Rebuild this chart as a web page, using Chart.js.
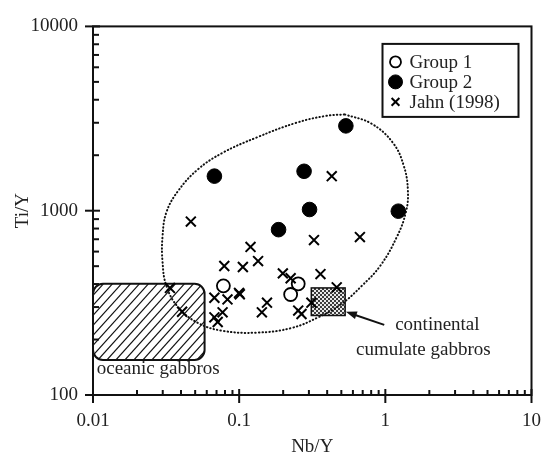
<!DOCTYPE html>
<html lang="en">
<head>
    <meta charset="UTF-8">
    <title>Ti/Y vs Nb/Y</title>
    <script src="https://cdn.jsdelivr.net/npm/chart.js"></script>
    <style>
        html, body { margin: 0; padding: 0; background: #fff; }
        #wrap { width: 556px; height: 454px; }
    </style>
</head>
<body>
<div id="wrap"><canvas id="grafico" width="556" height="454"></canvas></div>

<script>
    // valores (x = Nb/Y, y = Ti/Y)
    const group1Nb = [0.078, 0.2535, 0.225];
    const group1Ti = [391, 401, 351];

    const group2Nb = [0.0677, 0.278, 0.537, 0.303, 1.227, 0.186];
    const group2Ti = [1540, 1636, 2886, 1015, 994, 789];

    const jahnNb = [0.43, 0.0467, 0.67, 0.325, 0.1196, 0.1347, 0.0791, 0.106, 0.199, 0.225,
        0.36, 0.465, 0.0998, 0.101, 0.0677, 0.0832, 0.155, 0.143, 0.0677, 0.077,
        0.0713, 0.2535, 0.267, 0.312, 0.0336, 0.0407];
    const jahnTi = [1540, 873, 719, 693, 636, 533, 501, 495, 457, 430,
        453, 384, 358, 352, 337, 330, 317, 281, 264, 281,
        249, 287, 275, 317, 381, 283];

    // contorno pontilhado
    const envelopeNb = [0.528, 0.804, 1.131, 1.341, 1.427, 1.383, 1.203, 0.924, 0.688, 0.4964,
        0.3474, 0.2284, 0.1327, 0.077, 0.0522, 0.0383, 0.0318, 0.0299, 0.0299, 0.0318,
        0.0383, 0.0522, 0.077, 0.1327, 0.2469, 0.3933, 0.528];
    const envelopeTi = [3330, 2967, 2327, 1739, 1283, 982, 725, 503, 390, 310,
        264, 231, 218, 223, 246, 299, 390, 528, 725, 982,
        1283, 1676, 2061, 2502, 3003, 3270, 3330];

    // campos: [min, max]
    const oceanicNb = [0.01, 0.058];
    const oceanicTi = [155, 401];
    const continentalNb = [0.3115, 0.531];
    const continentalTi = [270, 381];

    const xTickValues = [0.01, 0.1, 1, 10];
    const xTickLabels = ['0.01', '0.1', '1', '10'];
    const yTickValues = [100, 1000, 10000];
    const yTickLabels = ['100', '1000', '10000'];

    const fonte = "'Liberation Serif', 'DejaVu Serif', serif";
    const corTexto = '#222';

    function pontos(xs, ys) {
        return xs.map(function (v, i) { return { x: v, y: ys[i] }; });
    }

    function rotuloLog(valores, rotulos) {
        return function (v) {
            for (let i = 0; i < valores.length; i++) {
                if (Math.abs(Math.log10(v) - Math.log10(valores[i])) < 1e-6) return rotulos[i];
            }
            return '';
        };
    }

    function caminhoArredondado(ctx, l, t, r, b, raio) {
        ctx.beginPath();
        ctx.moveTo(l + raio, t);
        ctx.arcTo(r, t, r, b, raio);
        ctx.arcTo(r, b, l, b, raio);
        ctx.arcTo(l, b, l, t, raio);
        ctx.arcTo(l, t, r, t, raio);
        ctx.closePath();
    }

    // desenho dos campos, eixos, textos e legenda
    const extras = {
        id: 'extras',
        beforeDatasetsDraw(chart) {
            const { ctx, scales: { x, y } } = chart;

            // oceanic gabbros (hachurado)
            let l = x.getPixelForValue(oceanicNb[0]), r = x.getPixelForValue(oceanicNb[1]);
            let t = y.getPixelForValue(oceanicTi[1]), b = y.getPixelForValue(oceanicTi[0]);
            ctx.save();
            caminhoArredondado(ctx, l, t, r, b, 10);
            ctx.clip();
            ctx.strokeStyle = '#111';
            ctx.lineWidth = 1.2;
            const h = b - t;
            for (let k = -h; k < (r - l) + 2; k += 9) {
                ctx.beginPath();
                ctx.moveTo(l + k, b);
                ctx.lineTo(l + k + h * 0.9, t);
                ctx.stroke();
            }
            ctx.restore();
            ctx.save();
            caminhoArredondado(ctx, l, t, r, b, 10);
            ctx.lineWidth = 2;
            ctx.strokeStyle = '#111';
            ctx.stroke();
            ctx.restore();

            // continental cumulate gabbros (quadriculado)
            l = x.getPixelForValue(continentalNb[0]); r = x.getPixelForValue(continentalNb[1]);
            t = y.getPixelForValue(continentalTi[1]); b = y.getPixelForValue(continentalTi[0]);
            const tile = document.createElement('canvas');
            tile.width = 4; tile.height = 4;
            const tc = tile.getContext('2d');
            tc.fillStyle = '#3c3c3c';
            tc.fillRect(0, 0, 4, 4);
            tc.fillStyle = '#e8e8e8';
            tc.fillRect(0, 0, 2, 2);
            tc.fillRect(2, 2, 2, 2);
            ctx.save();
            ctx.fillStyle = ctx.createPattern(tile, 'repeat');
            ctx.fillRect(l, t, r - l, b - t);
            ctx.lineWidth = 1.5;
            ctx.strokeStyle = '#111';
            ctx.strokeRect(l, t, r - l, b - t);
            ctx.restore();
        },
        afterDraw(chart) {
            const { ctx, chartArea: a, scales: { x, y } } = chart;
            ctx.save();

            // moldura
            ctx.strokeStyle = '#111';
            ctx.lineWidth = 2;
            ctx.strokeRect(a.left, a.top, a.right - a.left, a.bottom - a.top);

            // marcas do eixo x
            for (let d = 0; d < xTickValues.length; d++) {
                const px = x.getPixelForValue(xTickValues[d]);
                ctx.beginPath();
                ctx.moveTo(px, a.bottom - 6);
                ctx.lineTo(px, a.bottom + 8);
                ctx.stroke();
                if (d < xTickValues.length - 1) {
                    for (let m = 2; m <= 9; m++) {
                        const pm = x.getPixelForValue(xTickValues[d] * m);
                        ctx.beginPath();
                        ctx.moveTo(pm, a.bottom);
                        ctx.lineTo(pm, a.bottom - 5);
                        ctx.stroke();
                    }
                }
            }
            // marcas do eixo y
            for (let d = 0; d < yTickValues.length; d++) {
                const py = y.getPixelForValue(yTickValues[d]);
                ctx.beginPath();
                ctx.moveTo(a.left - 8, py);
                ctx.lineTo(a.left + 7, py);
                ctx.stroke();
                if (d < yTickValues.length - 1) {
                    for (let m = 2; m <= 9; m++) {
                        const pm = y.getPixelForValue(yTickValues[d] * m);
                        ctx.beginPath();
                        ctx.moveTo(a.left, pm);
                        ctx.lineTo(a.left + 6, pm);
                        ctx.stroke();
                    }
                }
            }

            // seta
            const x0 = x.getPixelForValue(0.983), y0 = y.getPixelForValue(240);
            const x1 = x.getPixelForValue(0.537), y1 = y.getPixelForValue(283);
            const ang = Math.atan2(y1 - y0, x1 - x0);
            ctx.lineWidth = 2;
            ctx.beginPath();
            ctx.moveTo(x0, y0);
            ctx.lineTo(x1 - 6 * Math.cos(ang), y1 - 6 * Math.sin(ang));
            ctx.stroke();
            ctx.beginPath();
            ctx.moveTo(x1, y1);
            ctx.lineTo(x1 - 11 * Math.cos(ang) + 4 * Math.sin(ang), y1 - 11 * Math.sin(ang) - 4 * Math.cos(ang));
            ctx.lineTo(x1 - 11 * Math.cos(ang) - 4 * Math.sin(ang), y1 - 11 * Math.sin(ang) + 4 * Math.cos(ang));
            ctx.closePath();
            ctx.fillStyle = '#111';
            ctx.fill();

            // textos dos campos
            ctx.font = '19px ' + fonte;
            ctx.fillStyle = corTexto;
            ctx.textBaseline = 'alphabetic';
            ctx.textAlign = 'left';
            ctx.fillText('oceanic gabbros', x.getPixelForValue(0.0106), y.getPixelForValue(129.9));
            ctx.textAlign = 'center';
            ctx.fillText('continental', x.getPixelForValue(2.27), y.getPixelForValue(225.8));
            ctx.fillText('cumulate gabbros', x.getPixelForValue(1.82), y.getPixelForValue(164.5));

            // legenda
            const lx = a.right - 149, ly = a.top + 17.5;
            ctx.lineWidth = 2;
            ctx.strokeStyle = '#111';
            ctx.strokeRect(lx, ly, 136, 73);
            const raios = [5.5, 7, 5.5];
            ctx.textAlign = 'left';
            ctx.textBaseline = 'middle';
            for (let i = 0; i < 3; i++) {
                const ds = chart.data.datasets[i];
                const cy = ly + 18 + i * 20;
                ctx.strokeStyle = ds.borderColor;
                ctx.fillStyle = ds.backgroundColor;
                ctx.lineWidth = ds.borderWidth;
                Chart.helpers.drawPoint(ctx, {
                    pointStyle: ds.pointStyle, rotation: 0,
                    radius: raios[i], borderWidth: ds.borderWidth
                }, lx + 13, cy);
                ctx.fillStyle = corTexto;
                ctx.fillText(ds.label, lx + 27, cy + 1);
            }
            ctx.restore();
        }
    };

    const config = {
        type: 'scatter',
        data: {
            datasets: [{
                label: 'Group 1',
                data: pontos(group1Nb, group1Ti),
                pointStyle: 'circle',
                pointRadius: 6.5,
                borderWidth: 1.8,
                borderColor: '#000',
                backgroundColor: 'rgba(255,255,255,0)'
            }, {
                label: 'Group 2',
                data: pontos(group2Nb, group2Ti),
                pointStyle: 'circle',
                pointRadius: 7.3,
                borderWidth: 1,
                borderColor: '#000',
                backgroundColor: '#000'
            }, {
                label: 'Jahn (1998)',
                data: pontos(jahnNb, jahnTi),
                pointStyle: 'crossRot',
                pointRadius: 7,
                borderWidth: 2,
                borderColor: '#000',
                backgroundColor: '#000'
            }, {
                label: 'envelope',
                data: pontos(envelopeNb, envelopeTi),
                showLine: true,
                tension: 0.4,
                pointRadius: 0,
                borderColor: '#111',
                borderWidth: 2,
                borderDash: [0.5, 3],
                borderCapStyle: 'round',
                fill: false
            }]
        },
        options: {
            responsive: false,
            animation: false,
            layout: { padding: { top: 16, right: 17, left: 0, bottom: 0 } },
            plugins: {
                legend: { display: false },
                tooltip: { enabled: false }
            },
            scales: {
                x: {
                    type: 'logarithmic',
                    min: 0.01,
                    max: 10,
                    afterFit: function (scale) { scale.height = 59; },
                    grid: { display: false, drawTicks: false },
                    border: { display: false },
                    ticks: {
                        autoSkip: false,
                        maxRotation: 0,
                        padding: 15,
                        color: corTexto,
                        font: { size: 19, family: fonte },
                        callback: rotuloLog(xTickValues, xTickLabels)
                    },
                    title: {
                        display: true,
                        text: 'Nb/Y',
                        color: corTexto,
                        padding: 0,
                        font: { size: 19, family: fonte, lineHeight: 0.7 }
                    }
                },
                y: {
                    type: 'logarithmic',
                    min: 100,
                    max: 10000,
                    afterFit: function (scale) { scale.width = 93; },
                    grid: { display: false, drawTicks: false },
                    border: { display: false },
                    ticks: {
                        autoSkip: false,
                        padding: 15,
                        color: corTexto,
                        font: { size: 19, family: fonte },
                        callback: rotuloLog(yTickValues, yTickLabels)
                    },
                    title: {
                        display: true,
                        text: 'Ti/Y',
                        color: corTexto,
                        padding: { top: 12, bottom: 0 },
                        font: { size: 19, family: fonte, lineHeight: 1.2 }
                    }
                }
            }
        },
        plugins: [extras]
    };

    let grafico = new Chart(document.getElementById('grafico').getContext('2d'), config);
</script>
</body>
</html>
